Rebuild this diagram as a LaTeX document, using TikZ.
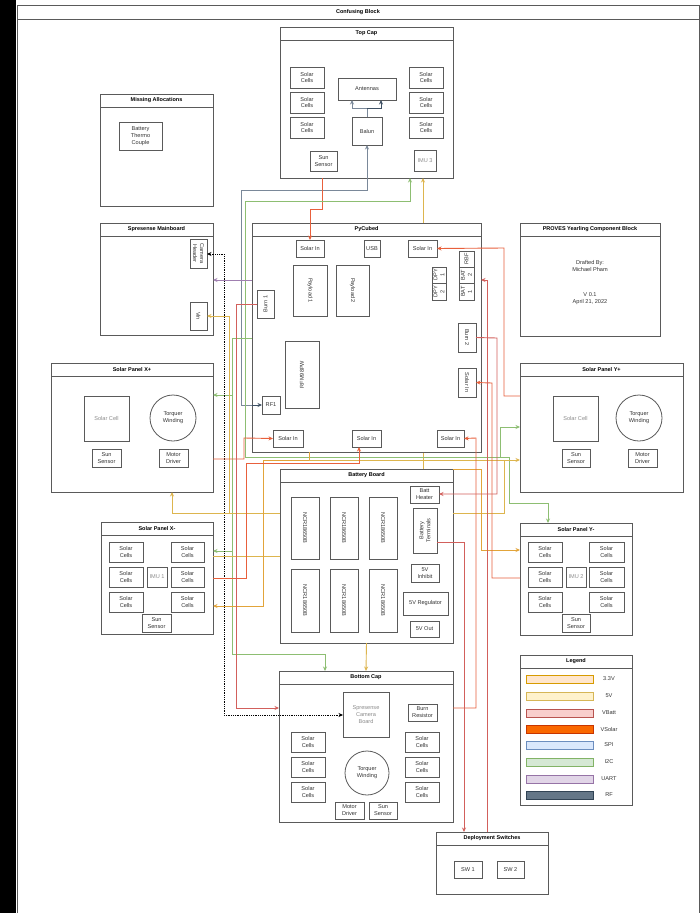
\documentclass[tikz,border=0pt]{standalone}
\usepackage{fontspec}
\setmainfont{Liberation Sans}
\usetikzlibrary{arrows.meta}
\definecolor{frame}{HTML}{5A5A5A}
\definecolor{txt}{HTML}{333333}
\definecolor{cVS}{HTML}{E8603C}
\definecolor{cVB}{HTML}{D2605C}
\definecolor{cFV}{HTML}{DDB54E}
\definecolor{cTV}{HTML}{E2A43A}
\definecolor{cI}{HTML}{8DBE72}
\definecolor{cU}{HTML}{A07FB0}
\definecolor{cRF}{HTML}{7A8899}
\definecolor{cRFd}{HTML}{3E5063}
\definecolor{lAf}{HTML}{FFE6CC}\definecolor{lAd}{HTML}{D79B00}
\definecolor{lBf}{HTML}{FFF2CC}\definecolor{lBd}{HTML}{D6B656}
\definecolor{lCf}{HTML}{F8CECC}\definecolor{lCd}{HTML}{B85450}
\definecolor{lDf}{HTML}{FA6800}\definecolor{lDd}{HTML}{C73500}
\definecolor{lEf}{HTML}{DAE8FC}\definecolor{lEd}{HTML}{6C8EBF}
\definecolor{lFf}{HTML}{D5E8D4}\definecolor{lFd}{HTML}{82B366}
\definecolor{lGf}{HTML}{E1D5E7}\definecolor{lGd}{HTML}{9673A6}
\definecolor{lHf}{HTML}{647687}\definecolor{lHd}{HTML}{314354}
\newcommand\cont[6]{%
  \node[cbox,minimum width={(#4-#2)*1pt},minimum height={(#5-#3)*1pt}] (#1) at ({(#2+#4)/2},{(#3+#5)/2}) {};
  \draw[frameline] ({#2},{#3+13}) -- ({#4},{#3+13});
  \node[ttl] (#1-t) at ({(#2+#4)/2},{#3+6.5}) {#6};}
\newcommand\bx[7][]{%
  \node[ibox,minimum width={(#5-#3)*1pt},minimum height={(#6-#4)*1pt},#1] (#2) at ({(#3+#5)/2},{(#4+#6)/2}) {#7};}
% rotated box: sizes swapped so the drawn box keeps the page extent
\newcommand\rbx[7][]{%
  \node[ibox,minimum width={(#6-#4)*1pt},minimum height={(#5-#3)*1pt},#1] (#2) at ({(#3+#5)/2},{(#4+#6)/2}) {#7};}
\newcommand\legrow[5]{%
  \node[swatch,fill=#2,draw=#3] (#1) at (559.5,#4) {};
  \node[ftxt] (#1-l) at (609,#4) {#5};}
\begin{document}
\begin{tikzpicture}[x=1pt,y=-1pt,
  font=\fontsize{5.6}{6.9}\selectfont,
  cbox/.style={draw=frame,line width=0.8,fill=white,inner sep=0,outer sep=0},
  frameline/.style={draw=frame,line width=0.8},
  ibox/.style={draw=frame,line width=0.8,fill=white,inner sep=0,outer sep=0,align=center,text=txt},
  ttl/.style={font=\fontsize{5.5}{6.8}\selectfont\bfseries,inner sep=0,text=black},
  ftxt/.style={inner sep=0,align=center,text=txt},
  gtxt/.style={text=black!45},
  rl/.style={rotate=-90},
  rr/.style={rotate=90},
  ar/.style={-{Stealth[length=4.5,width=4]}},
  ab/.style={{Stealth[length=4.5,width=4]}-{Stealth[length=4.5,width=4]}},
  ln/.style={line width=0.9},
  vs/.style={ln,draw=cVS},
  vb/.style={ln,draw=cVB},
  fv/.style={ln,draw=cFV},
  tv/.style={ln,draw=cTV},
  ic/.style={ln,draw=cI},
  ua/.style={ln,draw=cU},
  rf/.style={ln,draw=cRF},
  rfd/.style={ln,draw=cRFd},
  swatch/.style={line width=0.8,minimum width=67pt,minimum height=8pt,inner sep=0,outer sep=0}]
\useasboundingbox (0,0) rectangle (699,913);
\fill[black] (0,0) rectangle (16,913);
% outer
\node[cbox,minimum width=682pt,minimum height=920pt,anchor=north west] (outer) at (17,5) {};
\draw[frameline] (17,19) -- (699,19);
\node[ttl] (outer-t) at (358,12) {Confusing Block};

% 5V line running behind PyCubed
\draw[fv] (423,469) -- (423,223);

% ---------- Top Cap
\cont{top}{280}{27}{453}{178}{Top Cap}
\bx{tsc1}{290}{67}{324}{88}{Solar\\Cells}
\bx{tsc2}{290}{92}{324}{113}{Solar\\Cells}
\bx{tsc3}{290}{117}{324}{138}{Solar\\Cells}
\bx{tsc4}{409}{67}{443}{88}{Solar\\Cells}
\bx{tsc5}{409}{92}{443}{113}{Solar\\Cells}
\bx{tsc6}{409}{117}{443}{138}{Solar\\Cells}
\bx{ant}{338}{78}{396}{100}{Antennas}
\bx{balun}{352}{117}{382}{145}{Balun}
\bx{tsun}{310}{151}{337}{171}{Sun\\Sensor}
\bx[gtxt]{imu3}{414}{150}{436}{171}{IMU 3}

% ---------- Missing Allocations
\cont{miss}{100}{94}{213}{206}{Missing Allocations}
\bx{btc}{119}{122}{162}{150}{Battery\\Thermo\\Couple}

% ---------- Spresense
\cont{spr}{100}{223}{213}{335}{Spresense Mainboard}
\rbx[rl]{camh}{190}{239}{207}{268}{Camera\\Header}
\rbx[rl]{vin}{190}{302}{207}{330}{Vin}

% ---------- PyCubed
\cont{py}{252}{223}{481}{452}{PyCubed}
\bx{sintl}{296}{240}{324}{257}{Solar In}
\bx{usb}{364}{240}{380}{257}{USB}
\bx{sintr}{408}{240}{437}{257}{Solar In}
\rbx[rl]{pl1}{293}{265}{327}{316}{Payload 1}
\rbx[rl]{pl2}{336}{265}{369}{316}{Payload 2}
\rbx[rr]{dpy1}{432}{267}{446}{283}{DPY\\1}
\rbx[rr]{dpy2}{432}{283}{446}{300}{DPY\\2}
\rbx[rr]{rbf}{459}{251}{474}{267}{RBF}
\rbx[rr]{bat2}{459}{267}{474}{283}{BAT\\2}
\rbx[rr]{bat1}{459}{283}{474}{300}{BAT\\1}
\rbx[rr]{burn1}{257}{290}{274}{318}{Burn 1}
\rbx[rr]{rfm}{285}{341}{319}{408}{RFM98PW}
\bx{rf1}{262}{396}{280}{414}{RF1}
\rbx[rl]{burn2}{458}{323}{476}{352}{Burn 2}
\rbx[rl]{sinr}{458}{368}{476}{397}{Solar In}
\bx{sinbl}{273}{430}{303}{447}{Solar In}
\bx{sinbm}{352}{430}{381}{447}{Solar In}
\bx{sinbr}{437}{430}{464}{447}{Solar In}

% ---------- PROVES
\cont{prov}{520}{223}{660}{336}{PROVES Yearling Component Block}
\node[ftxt] (prov-a) at (590,266) {Drafted By:\\Michael Pham};
\node[ftxt] (prov-b) at (590,299) {V 0.1\\April 21, 2022};

% ---------- Solar Panel X+
\cont{xp}{51}{363}{213}{492}{Solar Panel X+}
\bx[gtxt]{xpc}{84}{396}{129}{441}{Solar Cell}
\node[draw=frame,line width=0.8,circle,minimum size=46pt,inner sep=0,align=center,text=txt] (xptw) at (173,418) {Torquer\\Winding};
\bx{xpss}{92}{449}{121}{467}{Sun\\Sensor}
\bx{xpmd}{159}{449}{188}{467}{Motor\\Driver}

% ---------- Solar Panel Y+
\cont{yp}{520}{363}{683}{492}{Solar Panel Y+}
\bx[gtxt]{ypc}{553}{396}{598}{441}{Solar Cell}
\node[draw=frame,line width=0.8,circle,minimum size=46pt,inner sep=0,align=center,text=txt] (yptw) at (639,418) {Torquer\\Winding};
\bx{ypss}{562}{449}{590}{467}{Sun\\Sensor}
\bx{ypmd}{628}{449}{657}{467}{Motor\\Driver}

% ---------- Solar Panel X-
\cont{xm}{101}{522}{213}{634}{Solar Panel X-}
\bx{xmc1}{109}{542}{143}{562}{Solar\\Cells}
\bx{xmc2}{109}{567}{143}{587}{Solar\\Cells}
\bx{xmc3}{109}{592}{143}{612}{Solar\\Cells}
\bx{xmc4}{171}{542}{204}{562}{Solar\\Cells}
\bx{xmc5}{171}{567}{204}{587}{Solar\\Cells}
\bx{xmc6}{171}{592}{204}{612}{Solar\\Cells}
\bx[gtxt]{imu1}{147}{567}{167}{587}{IMU 1}
\bx{xmss}{142}{614}{171}{632}{Sun\\Sensor}

% ---------- Battery Board
\cont{bat}{280}{469}{453}{643}{Battery Board}
\rbx[rl]{n1}{291}{497}{319}{559}{NCR18650B}
\rbx[rl]{n2}{330}{497}{358}{559}{NCR18650B}
\rbx[rl]{n3}{369}{497}{397}{559}{NCR18650B}
\rbx[rl]{n4}{291}{569}{319}{632}{NCR18650B}
\rbx[rl]{n5}{330}{569}{358}{632}{NCR18650B}
\rbx[rl]{n6}{369}{569}{397}{632}{NCR18650B}
\bx{bheat}{410}{486}{439}{503}{Batt\\Heater}
\rbx[rr]{bterm}{413}{508}{437}{553}{Battery\\Terminals}
\bx{inh}{411}{564}{439}{582}{5V\\Inhibit}
\bx{reg}{403}{592}{448}{615}{5V Regulator}
\bx{fvout}{410}{621}{439}{637}{5V Out}

% ---------- Solar Panel Y-
\cont{ym}{520}{523}{632}{635}{Solar Panel Y-}
\bx{ymc1}{528}{542}{562}{562}{Solar\\Cells}
\bx{ymc2}{528}{567}{562}{587}{Solar\\Cells}
\bx{ymc3}{528}{592}{562}{612}{Solar\\Cells}
\bx{ymc4}{589}{542}{624}{562}{Solar\\Cells}
\bx{ymc5}{589}{567}{624}{587}{Solar\\Cells}
\bx{ymc6}{589}{592}{624}{612}{Solar\\Cells}
\bx[gtxt]{imu2}{566}{567}{586}{587}{IMU 2}
\bx{ymss}{562}{614}{590}{632}{Sun\\Sensor}

% ---------- Legend
\cont{leg}{520}{655}{632}{805}{Legend}
\legrow{lg1}{lAf}{lAd}{679}{3.3V}
\legrow{lg2}{lBf}{lBd}{696}{5V}
\legrow{lg3}{lCf}{lCd}{713}{VBatt}
\legrow{lg4}{lDf}{lDd}{729}{VSolar}
\legrow{lg5}{lEf}{lEd}{745}{SPI}
\legrow{lg6}{lFf}{lFd}{762}{I2C}
\legrow{lg7}{lGf}{lGd}{779}{UART}
\legrow{lg8}{lHf}{lHd}{795}{RF}

% ---------- Bottom Cap
\cont{bot}{279}{671}{453}{822}{Bottom Cap}
\bx[gtxt]{cam}{343}{692}{389}{737}{Spresense\\Camera\\Board}
\bx{bres}{408}{704}{437}{721}{Burn\\Resistor}
\bx{bsc1}{291}{732}{325}{752}{Solar\\Cells}
\bx{bsc2}{291}{757}{325}{777}{Solar\\Cells}
\bx{bsc3}{291}{782}{325}{802}{Solar\\Cells}
\bx{bsc4}{405}{732}{439}{752}{Solar\\Cells}
\bx{bsc5}{405}{757}{439}{777}{Solar\\Cells}
\bx{bsc6}{405}{782}{439}{802}{Solar\\Cells}
\node[draw=frame,line width=0.8,circle,minimum size=44pt,inner sep=0,align=center,text=txt] (btw) at (367,773) {Torquer\\Winding};
\bx{bmd}{335}{802}{364}{819}{Motor\\Driver}
\bx{bss}{369}{802}{397}{819}{Sun\\Sensor}

% ---------- Deployment Switches
\cont{dep}{436}{832}{548}{894}{Deployment Switches}
\bx{sw1}{454}{861}{482}{878}{SW 1}
\bx{sw2}{497}{861}{524}{878}{SW 2}

% ================= connectors =================
% RF
\draw[rf,{Stealth[length=4.5,width=4]}-] (balun.south) -- (367,190) -- (241,190) -- (241,405) -- (252,405);
\draw[rfd,ar] (252,405) -- (rf1.west);
\draw[rf,ar] (balun.north) -- (367,108) -- (352,108) -- (ant.south -| 352,0);
\draw[rfd,ar] (367,108) -- (381,108) -- (ant.south -| 381,0);
% top cap solar -> solar in TL
\draw[vs,ar] (top.south -| 322,0) -- (322,209) -- (310,209) -- (sintl.north);
% I2C
\draw[ic,ar] (245,457) -- (245,201) -- (410,201) -- (top.south -| 410,0);
\draw[ic,ar] (py.west |- 0,338) -- (232,338) -- (232,395) -- (xp.east |- 0,395);
\draw[ic,ar] (232,395) -- (232,551) -- (xm.east |- 0,551);
\draw[ic,ar] (232,551) -- (232,654) -- (325,654) -- (bot.north -| 325,0);
\draw[ic] (245,457) -- (509,457);
\draw[ic,ar] (500,457) -- (500,427) -- (yp.west |- 0,427);
\draw[ic,ar] (509,457) -- (509,503) -- (548,503) -- (ym.north -| 548,0);
% UART
\draw[ua,ar] (py.west |- 0,280) -- (spr.east |- 0,280);
% camera dotted
\draw[ln,ab,dash pattern=on 0.9pt off 0.9pt] (camh.north |- 0,254) -- (224,254) -- (224,715) -- (cam.west |- 0,715);
% 5V / 3.3V
\draw[fv,ar] (423,223) -- (top.south -| 423,0);
\draw[fv,ar] (bat.west |- 0,513) -- (172,513) -- (xp.south -| 172,0);
\draw[fv,ar] (229,513) -- (229,316) -- (vin.north |- 0,316);
\draw[fv] (bat.west |- 0,556) -- (xm.east |- 0,556);
\draw[tv,ar] (py.south -| 309,0) -- (309,460) -- (263,460) -- (263,606) -- (xm.east |- 0,606);
\draw[fv,ar] (309,460) -- (yp.west |- 0,460);
\draw[fv] (bat.east |- 0,513) -- (504,513) -- (504,460);
\draw[tv,ar] (bat.north east) -- (481,469) -- (481,550) -- (ym.west |- 0,550);
\draw[fv,ar] (bat.south) -- (bot.north);
% VSolar / VBatt
\draw[vs,ar] (yp.west |- 0,396) -- (504,396) -- (504,248) -- (sintr.east);
\draw[vs,ar] (ym.west |- 0,578) -- (492,578) -- (492,383) -- (sinr.north);
\draw[vs,ar] (xp.east |- 0,459) -- (244,459) -- (244,438) -- (sinbl.west);
\draw[vs,ar] (xm.east |- 0,578) -- (246,578) -- (246,463) -- (359,463) -- (sinbm.south -| 359,0);
\draw[vs,ar] (bot.east |- 0,708) -- (476,708) -- (476,438) -- (sinbr.east);
\draw[vb,ar] (burn1.north) -- (236,304) -- (236,708) -- (bot.west |- 0,708);
\draw[vb,ar] (burn2.north) -- (497,338) -- (497,494) -- (bheat.east |- 0,494);
\draw[vb,ar] (bterm.south |- 0,542) -- (464,542) -- (dep.north -| 464,0);
\draw[vb,ar] (dep.north -| 487,0) -- (487,280) -- (py.east |- 0,280);
\end{tikzpicture}
\end{document}
